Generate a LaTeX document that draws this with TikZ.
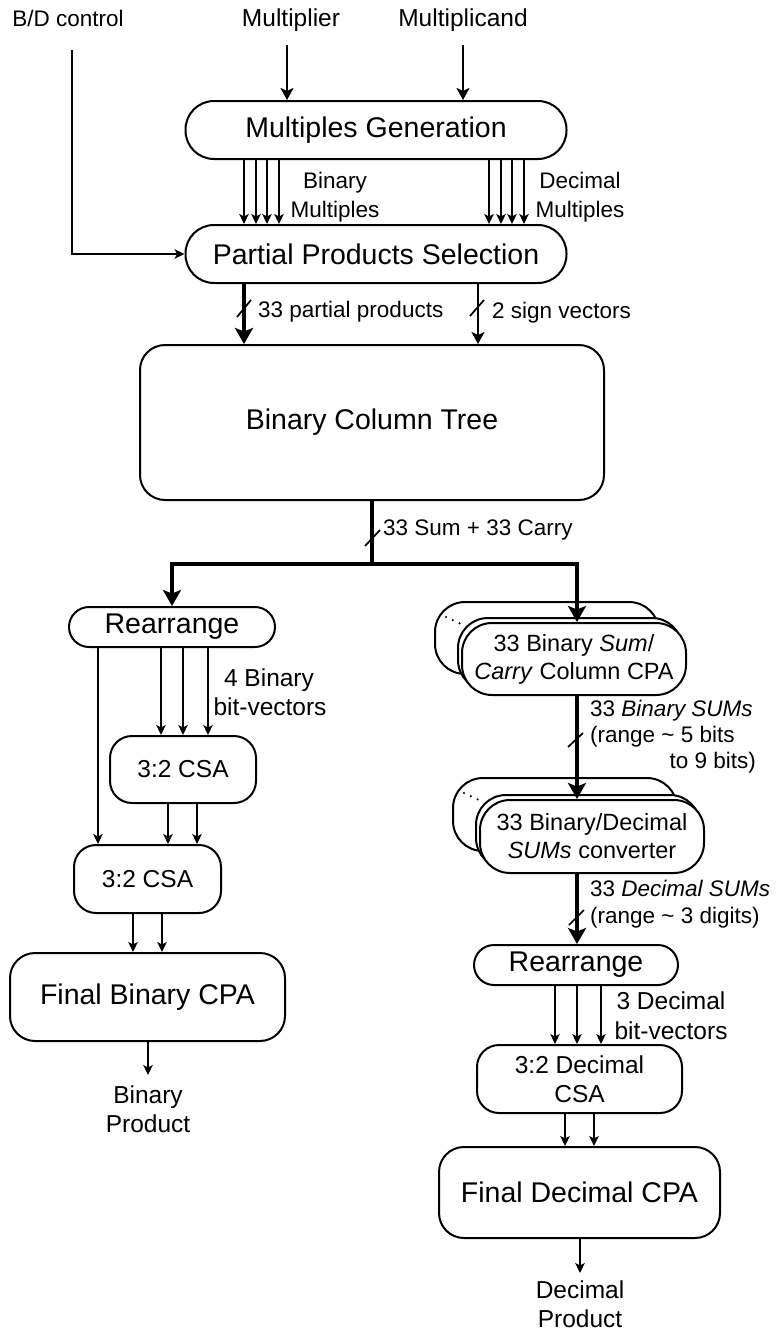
\documentclass[tikz,border=0pt]{standalone}
\usepackage{fontspec}
\setmainfont{Liberation Sans}
\usetikzlibrary{arrows.meta,calc}

\newcommand{\szBig}{\fontsize{28.5}{34}\selectfont}
\newcommand{\szMid}{\fontsize{24.5}{29}\selectfont}
\newcommand{\szStk}{\fontsize{23.5}{28}\selectfont}
\newcommand{\szSmall}{\fontsize{22.5}{27}\selectfont}

\begin{document}
\begin{tikzpicture}[x=1pt,y=-1pt,
  blk/.style={draw, line width=2pt, rectangle, inner sep=0pt, align=center, fill=white},
  stk/.style={blk, minimum width=224pt, rounded corners=30pt},
  lab/.style={inner sep=0pt, anchor=base},
  labw/.style={inner sep=0pt, anchor=base west},
  labe/.style={inner sep=0pt, anchor=base east},
  tarr/.style={line width=1.2pt, -{Stealth[length=10pt,width=9.5pt,inset=2.5pt]}},
  marr/.style={line width=2.2pt, -{Stealth[length=12pt,width=13pt,inset=3pt]}},
  karr/.style={line width=4.3pt, -{Stealth[length=16pt,width=18pt,inset=3.5pt]}},
  kline/.style={line width=4.3pt},
  slash/.style={line width=1.7pt},
  dots/.style={line width=2.4pt, line cap=round, dash pattern=on 0pt off 7.5pt}
]
\useasboundingbox (0,0) rectangle (776,1333);

% ---------- inputs ----------
\node[lab, font=\szSmall] (bd)  at (68,27)  {B/D control};
\node[lab, font=\szMid]   (mul) at (291,27) {Multiplier};
\node[lab, font=\szMid]   (mcd) at (463,27) {Multiplicand};

% ---------- upper blocks ----------
\node[blk, minimum width=381pt, minimum height=58pt, rounded corners=28.5pt, font=\szBig]
  (mg) at (376,130) {Multiples Generation};
\node[blk, minimum width=381pt, minimum height=58pt, rounded corners=28.5pt, font=\szBig]
  (pps) at (376,254) {Partial Products Selection};
\node[blk, minimum width=464pt, minimum height=155pt, rounded corners=25pt, font=\szBig]
  (cbt) at (372,422.5) {Binary Column Tree};

\coordinate (m0) at (287,45);
\coordinate (c0) at (463,45);
\coordinate (b0) at (72,50);
\draw[marr] (m0) -- (m0 |- mg.north);
\draw[marr] (c0) -- (c0 |- mg.north);
\draw[tarr] (b0) |- (pps.west);

\foreach \x in {244,256,267,279,489,501,512,524}
  \draw[tarr] (\x,0 |- mg.south) -- (\x,0 |- pps.north);
\node[lab, font=\szSmall] (bm1) at (335,188) {Binary};
\node[lab, font=\szSmall] (bm2) at (335,217) {Multiples};
\node[lab, font=\szSmall] (dm1) at (580,188) {Decimal};
\node[lab, font=\szSmall] (dm2) at (580,217) {Multiples};

\draw[karr] (244,0 |- pps.south) -- (244,0 |- cbt.north);
\draw[marr] (478,0 |- pps.south) -- (478,0 |- cbt.north);
\draw[slash] (237,317) -- (251,300);
\draw[slash] (470,316) -- (484,300);
\node[labw, font=\szSmall] (ppl) at (258,317) {33 partial products};
\node[labw, font=\szSmall] (svl) at (492,318) {2 sign vectors};

% ---------- binary branch ----------
\node[blk, minimum width=206pt, minimum height=40pt, rounded corners=20pt, font=\szBig]
  (rl) at (172,627) {Rearrange};
\node[blk, minimum width=146pt, minimum height=67pt, rounded corners=22pt, font=\szMid]
  (csa1) at (183,769.5) {3:2 CSA};
\node[blk, minimum width=147pt, minimum height=68pt, rounded corners=22pt, font=\szMid]
  (csa2) at (147.5,879) {3:2 CSA};
\node[blk, minimum width=275pt, minimum height=88pt, rounded corners=25pt, font=\szBig]
  (fbc) at (147.5,997) {Final Binary CPA};

\draw[tarr] (98,0 |- rl.south) -- (98,0 |- csa2.north);
\foreach \x in {161,183,208}
  \draw[tarr] (\x,0 |- rl.south) -- (\x,0 |- csa1.north);
\node[lab, font=\szMid] (bv1) at (269,686) {4 Binary};
\node[lab, font=\szMid] (bv2) at (270,715) {bit-vectors};
\foreach \x in {168,197}
  \draw[tarr] (\x,0 |- csa1.south) -- (\x,0 |- csa2.north);
\foreach \x in {133,162}
  \draw[tarr] (\x,0 |- csa2.south) -- (\x,0 |- fbc.north);
\coordinate (bout) at (148,1075);
\draw[tarr] (148,0 |- fbc.south) -- (bout);
\node[lab, font=\szMid] (bp1) at (148,1103) {Binary};
\node[lab, font=\szMid] (bp2) at (148,1132) {Product};

% ---------- decimal branch: stacked column CPAs ----------
\node[stk, minimum height=72pt] (cpaB) at (547,638) {};
\draw[dots] (446,617) -- (461,624);
\node[stk, minimum height=72pt] (cpaM) at (570,654) {};
\node[stk, minimum height=72pt, font=\szStk] (cpa) at (574,659)
  {33 Binary \textit{Sum}/\\\textit{Carry} Column CPA};

% stacked converters
\node[stk, minimum height=73pt] (cnvB) at (565,814.5) {};
\draw[dots] (464,793) -- (479,800);
\node[stk, minimum height=73pt] (cnvM) at (588,831.5) {};
\node[stk, minimum height=73pt, font=\szStk] (cnv) at (592,836.5)
  {33 Binary/Decimal\\\textit{SUMs} converter};

\node[blk, minimum width=204pt, minimum height=40pt, rounded corners=20pt, font=\szBig]
  (rr) at (576,965) {Rearrange};
\node[blk, minimum width=205pt, minimum height=68pt, rounded corners=22pt, font=\szMid]
  (dcsa) at (579.5,1079) {3:2 Decimal\\CSA};
\node[blk, minimum width=281pt, minimum height=91pt, rounded corners=25pt, font=\szBig]
  (fdc) at (579.5,1192.5) {Final Decimal CPA};

% ---------- sum/carry bus ----------
\coordinate (split) at (372,564);
\draw[kline] (cbt.south) -- (split);
\draw[karr] (split) -| (rl.north);
\draw[karr] (split) -| (577,0 |- cpa.north);
\draw[slash] (365,546) -- (380,530);
\node[labw, font=\szSmall] (scl) at (383,535) {33 Sum + 33 Carry};

\draw[karr] (577,0 |- cpa.south) -- (577,0 |- cnv.north);
\draw[slash] (568,747) -- (583,733);
\node[labw, font=\szSmall] (bs1) at (590,716) {33 \textit{Binary SUMs}};
\node[labw, font=\szSmall] (bs2) at (590,742) {(range \textasciitilde{} 5 bits};
\node[labe, font=\szSmall] (bs3) at (756,768) {to 9 bits)};

\draw[karr] (577,0 |- cnv.south) -- (577,0 |- rr.north);
\draw[slash] (569,925) -- (584,910);
\node[labw, font=\szSmall] (ds1) at (590,896) {33 \textit{Decimal SUMs}};
\node[labw, font=\szSmall] (ds2) at (590,923) {(range \textasciitilde{} 3 digits)};

\foreach \x in {555,577,601}
  \draw[tarr] (\x,0 |- rr.south) -- (\x,0 |- dcsa.north);
\node[lab, font=\szMid] (dv1) at (671,1009) {3 Decimal};
\node[lab, font=\szMid] (dv2) at (671,1039) {bit-vectors};
\foreach \x in {565,594}
  \draw[tarr] (\x,0 |- dcsa.south) -- (\x,0 |- fdc.north);
\coordinate (dout) at (580,1273);
\draw[tarr] (580,0 |- fdc.south) -- (dout);
\node[lab, font=\szMid] (dp1) at (580,1298) {Decimal};
\node[lab, font=\szMid] (dp2) at (580,1327) {Product};
\end{tikzpicture}
\end{document}
